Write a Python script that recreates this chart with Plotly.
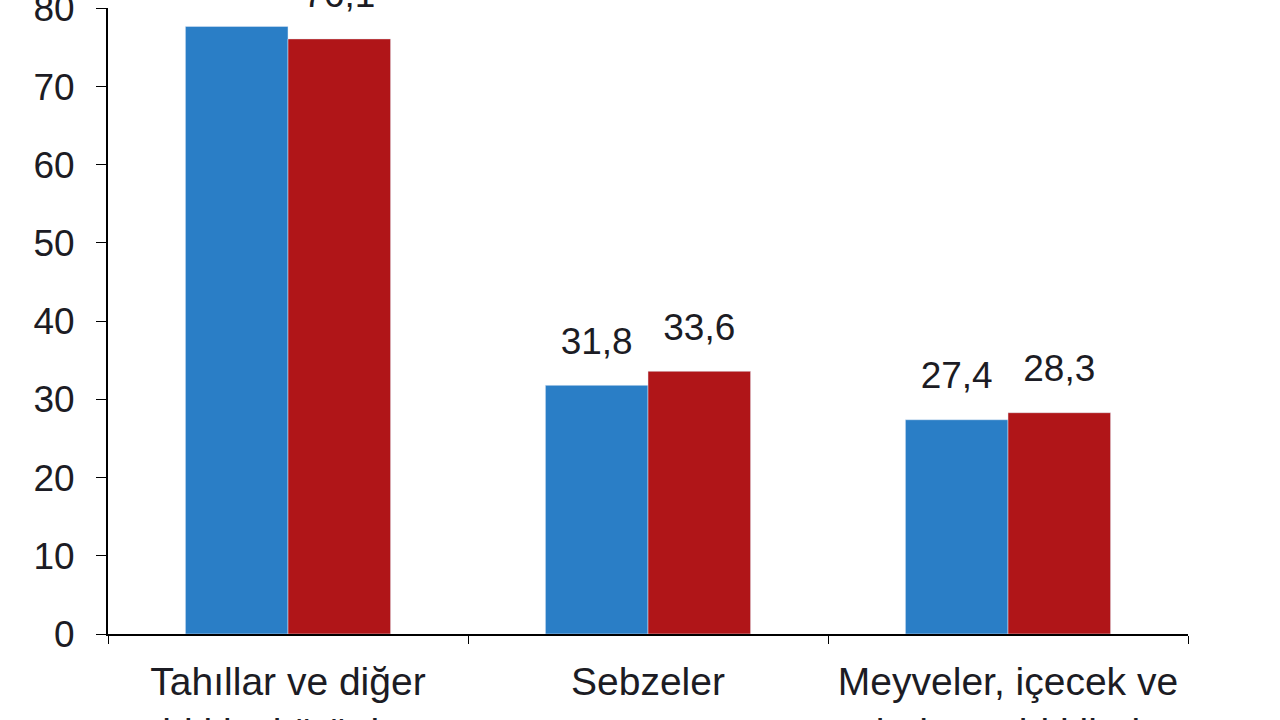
import plotly.graph_objects as go

# Bitkisel ürün grupları
categories = ["Tahıllar ve diğer<br>bitkisel ürünler", "Sebzeler", "Meyveler, içecek ve<br>baharat bitkileri"]
series_a = [77.7, 31.8, 27.4]
series_b = [76.1, 33.6, 28.3]
y_ticks = [0, 10, 20, 30, 40, 50, 60, 70, 80]
colors = ["#2a7ec6", "#b01518"]


def fmt(values):
    # Turkish decimal comma
    return [f"{v:.1f}".replace(".", ",") for v in values]


family = "Liberation Sans, Arial, sans-serif"
ink = "#1c1c24"

fig = go.Figure()
for vals, col in zip([series_a, series_b], colors):
    fig.add_trace(go.Bar(x=categories, y=vals, marker_color=col, hoverinfo="y"))

# value labels as grouped text scatter so they can float a bit above the bars
for vals in [series_a, series_b]:
    fig.add_trace(go.Scatter(
        x=categories, y=vals, mode="markers+text",
        marker=dict(size=34, opacity=0),
        text=fmt(vals), textposition="top center",
        textfont=dict(family=family, size=37, color=ink),
        cliponaxis=False, hoverinfo="skip",
    ))

fig.update_layout(
    width=1280, height=720,
    barmode="group", bargap=0.43, bargroupgap=0,
    scattermode="group", scattergap=0.43,
    showlegend=False,
    plot_bgcolor="white", paper_bgcolor="white",
    margin=dict(l=108, r=92, t=8, b=86),
    font=dict(family=family, size=37, color=ink),
)
fig.update_xaxes(
    automargin=False,
    tickfont=dict(size=39),
    showline=True, linecolor="black", linewidth=2,
    ticks="outside", tickson="boundaries", ticklen=8, tickcolor="black",
    ticklabelstandoff=12,
    showgrid=False,
)
fig.update_yaxes(
    automargin=False,
    range=[0, 80.05], tickvals=y_ticks,
    tickfont=dict(size=37),
    ticklabeloverflow="allow",
    showline=True, linecolor="black", linewidth=2,
    ticks="outside", ticklen=10, tickcolor="black",
    ticklabelstandoff=14,
    showgrid=False, zeroline=False,
)

# page fills the window edge to edge, like the cropped original
fig.write_html(
    "out.html",
    config={"displayModeBar": False},
    post_script="document.body.style.margin='0';",
)
